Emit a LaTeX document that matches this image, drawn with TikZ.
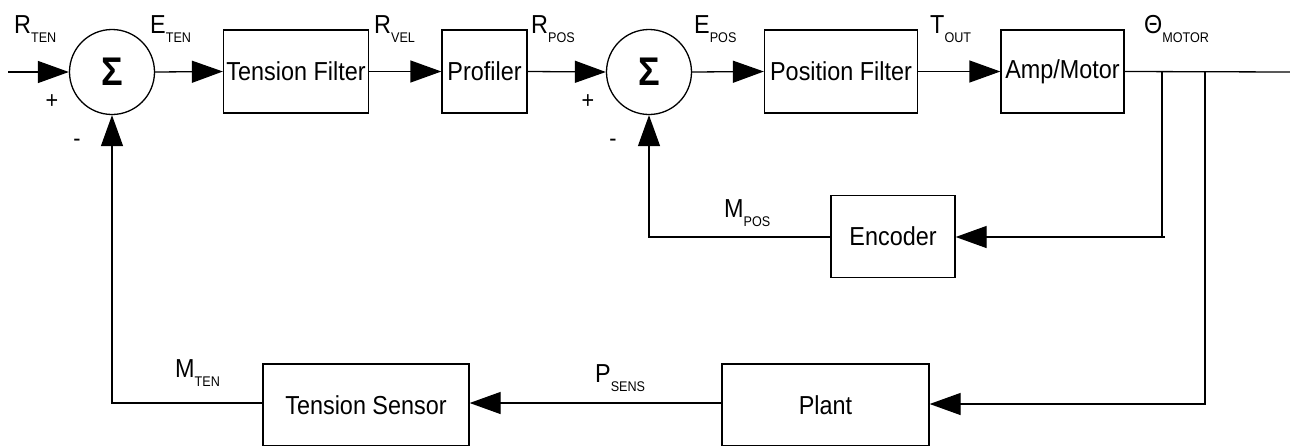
\documentclass[tikz,border=0pt]{standalone}
\usepackage{fontspec}
\setmainfont[FakeStretch=0.9]{Liberation Sans}
\newfontfamily\sigfont[FakeStretch=0.9]{Liberation Sans}
\usetikzlibrary{arrows.meta}
\newcommand{\sig}[2]{#1\raisebox{-9pt}{\fontsize{14}{14}\selectfont #2}}
\tikzset{
  blk/.style={draw, line width=1.3pt, rectangle, inner sep=0pt, font=\fontsize{26}{26}\selectfont},
  sumnode/.style={draw, line width=1.3pt, circle, inner sep=0pt, minimum size=85pt, font=\sigfont\bfseries\fontsize{40}{40}\selectfont},
  arr/.style={line width=1.3pt, -{Triangle[length=31pt,width=22pt]}},
  ln/.style={line width=1.3pt},
  lbl/.style={anchor=base west, inner sep=0pt, font=\fontsize{26}{26}\selectfont},
  sgn/.style={inner sep=0pt, font=\fontsize{24}{24}\selectfont}
}
\begin{document}
\begin{tikzpicture}[x=1pt,y=-1pt]
\useasboundingbox (0,0) rectangle (1290,445);
\fill[white] (0,0) rectangle (1290,445);
% nodes
\node[sumnode] (s1) at (112,72) {Σ};
\node[blk, minimum width=145pt, minimum height=83pt] (tf) at (296,71.5) {Tension Filter};
\node[blk, minimum width=85pt, minimum height=83pt] (pr) at (484.5,71.5) {Profiler};
\node[sumnode] (s2) at (649,72) {Σ};
\node[blk, minimum width=153pt, minimum height=83pt] (pf) at (841,71.5) {Position Filter};
\node[blk, minimum width=123pt, minimum height=83pt] (am) at (1062.5,71.5) {Amp/Motor};
\node[blk, minimum width=124pt, minimum height=82pt] (enc) at (893,236.5) {Encoder};
\node[blk, minimum width=207pt, minimum height=82pt] (plant) at (825.5,405) {Plant};
\node[blk, minimum width=206pt, minimum height=82pt] (ts) at (366,405) {Tension Sensor};
% coordinates
\coordinate (in) at (8,72);
\coordinate (out) at (1290,72);
\coordinate (b1) at (1162,72);
\coordinate (b2) at (1205,72);
\coordinate (b1e) at (1165,237);
% forward path
\draw[arr] (in) -- (s1.west);
\draw[arr] (s1.east) -- (tf.west);
\draw[arr] (tf.east) -- (pr.west);
\draw[arr] (pr.east) -- (s2.west);
\draw[arr] (s2.east) -- (pf.west);
\draw[arr] (pf.east) -- (am.west);
\draw[ln] (am.east) -- (out);
% feedback
\draw[ln] (b1) -- (b1 |- b1e);
\draw[arr] (b1e) -- (enc.east |- b1e);
\draw[arr] (b2) |- (plant.east |- 0,404);
\draw[arr] (enc.west |- b1e) -| (s2.south);
\draw[arr] (plant.west |- 0,403) -- (ts.east |- 0,403);
\draw[arr] (ts.west |- 0,403) -| (s1.south);
% labels
\node[lbl] (lrten) at (14,33) {\sig{R}{TEN}};
\node[lbl] (leten) at (150,33) {\sig{E}{TEN}};
\node[lbl] (lrvel) at (374,33) {\sig{R}{VEL}};
\node[lbl] (lrpos) at (531,33) {\sig{R}{POS}};
\node[lbl] (lepos) at (694,33) {\sig{E}{POS}};
\node[lbl] (ltout) at (930,33) {\sig{T}{OUT}};
\node[lbl] (lth) at (1144,33) {\sig{Θ}{MOTOR}};
\node[lbl] (lmpos) at (724,217) {\sig{M}{POS}};
\node[lbl] (lmten) at (175,377) {\sig{M}{TEN}};
\node[lbl] (lpsens) at (595,382) {\sig{P}{SENS}};
\node[sgn] (p1) at (52,102) {+};
\node[sgn] (m1) at (77,143) {-};
\node[sgn] (p2) at (588,102) {+};
\node[sgn] (m2) at (613,143) {-};
\end{tikzpicture}
\end{document}
